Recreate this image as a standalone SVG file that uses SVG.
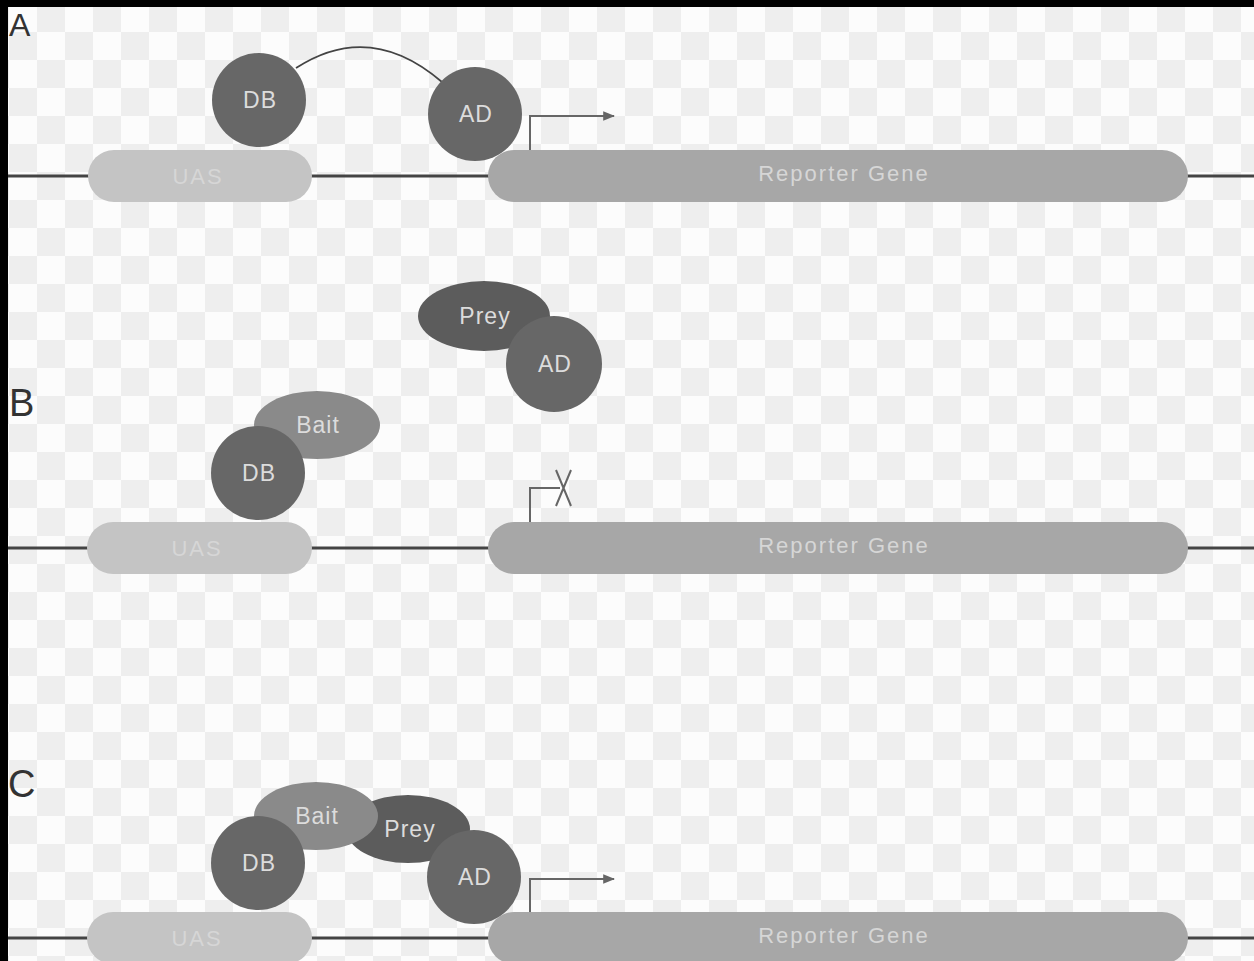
<svg xmlns="http://www.w3.org/2000/svg" width="1254" height="961" viewBox="0 0 1254 961">
<defs>
<pattern id="checker" x="9" y="4" width="56" height="56" patternUnits="userSpaceOnUse">
<rect width="56" height="56" fill="#fcfcfc"/>
<rect x="28" y="0" width="28" height="28" fill="#eeeeee"/>
<rect x="0" y="28" width="28" height="28" fill="#eeeeee"/>
</pattern>
<marker id="arr" viewBox="0 0 10 10" refX="9" refY="5" markerWidth="6" markerHeight="6" orient="auto" markerUnits="strokeWidth">
<path d="M0,1 L10,5 L0,9 Z" fill="#666"/>
</marker>
<style>
.dna{stroke:#444;stroke-width:3;fill:none}
.uas{fill:#c4c4c4}
.rep{fill:#a7a7a7}
.dom{fill:#676767}
.prey{fill:#5c5c5c}
.bait{fill:#8a8a8a}
.t{font-family:"Liberation Sans","DejaVu Sans",sans-serif;text-anchor:middle;dominant-baseline:central}
.tw{fill:#dcdcdc;font-size:23px;letter-spacing:1px}
.tu{fill:#d6d6d6;font-size:22px;letter-spacing:2px}
.tr{fill:#d6d6d6;font-size:22px;letter-spacing:2px}
.lbl{font-family:"Liberation Sans","DejaVu Sans",sans-serif;font-size:38px;fill:#333}
.prom{stroke:#666;stroke-width:2;fill:none}
</style>
</defs>
<rect width="1254" height="961" fill="url(#checker)"/>
<rect x="0" y="0" width="1254" height="7" fill="#000"/>
<rect x="0" y="0" width="8" height="961" fill="#000"/>

<text class="lbl" x="9" y="36" style="font-size:32px">A</text>
<text class="lbl" x="9" y="416">B</text>
<text class="lbl" x="8" y="797">C</text>

<g id="connectors">
<line class="dna" x1="8" y1="176" x2="1254" y2="176"/>
<line class="dna" x1="8" y1="548" x2="1254" y2="548"/>
<line class="dna" x1="8" y1="938" x2="1254" y2="938"/>
<path d="M296 68 Q370 20 442 82" fill="none" stroke="#444" stroke-width="1.8"/>
<path class="prom" d="M530 150 V116 H614" marker-end="url(#arr)"/>
<path class="prom" d="M530 522 V488 H560"/>
<path class="prom" d="M556 470 L571 506 M571 470 L556 506"/>
<path class="prom" d="M530 912 V879 H614" marker-end="url(#arr)"/>
</g>

<!-- Panel A -->
<g id="uasA"><rect class="uas" x="88" y="150" width="224" height="52" rx="26"/><text class="t tu" x="198" y="176">UAS</text></g>
<g id="reporterA"><rect class="rep" x="488" y="150" width="700" height="52" rx="26"/><text class="t tr" x="844" y="173">Reporter Gene</text></g>
<g id="dbA"><circle class="dom" cx="259" cy="100" r="47"/><text class="t tw" x="260" y="100">DB</text></g>
<g id="adA"><circle class="dom" cx="475" cy="114" r="47"/><text class="t tw" x="476" y="114">AD</text></g>

<!-- Panel B -->
<g id="uasB"><rect class="uas" x="87" y="522" width="225" height="52" rx="26"/><text class="t tu" x="197" y="548">UAS</text></g>
<g id="reporterB"><rect class="rep" x="488" y="522" width="700" height="52" rx="26"/><text class="t tr" x="844" y="545">Reporter Gene</text></g>
<g id="baitB"><ellipse class="bait" cx="317" cy="425" rx="63" ry="34"/><text class="t tw" x="318" y="425">Bait</text></g>
<g id="dbB"><circle class="dom" cx="258" cy="473" r="47"/><text class="t tw" x="259" y="473">DB</text></g>
<g id="preyB"><ellipse class="prey" cx="484" cy="316" rx="66" ry="35"/><text class="t tw" x="485" y="316">Prey</text></g>
<g id="adB"><circle class="dom" cx="554" cy="364" r="48"/><text class="t tw" x="555" y="364">AD</text></g>

<!-- Panel C -->
<g id="uasC"><rect class="uas" x="87" y="912" width="225" height="52" rx="26"/><text class="t tu" x="197" y="938">UAS</text></g>
<g id="reporterC"><rect class="rep" x="488" y="912" width="700" height="52" rx="26"/><text class="t tr" x="844" y="935">Reporter Gene</text></g>
<g id="preyC"><ellipse class="prey" cx="408" cy="829" rx="62" ry="34"/><text class="t tw" x="410" y="829">Prey</text></g>
<g id="baitC"><ellipse class="bait" cx="316" cy="816" rx="62" ry="34"/><text class="t tw" x="317" y="816">Bait</text></g>
<g id="dbC"><circle class="dom" cx="258" cy="863" r="47"/><text class="t tw" x="259" y="863">DB</text></g>
<g id="adC"><circle class="dom" cx="474" cy="877" r="47"/><text class="t tw" x="475" y="877">AD</text></g>
</svg>
